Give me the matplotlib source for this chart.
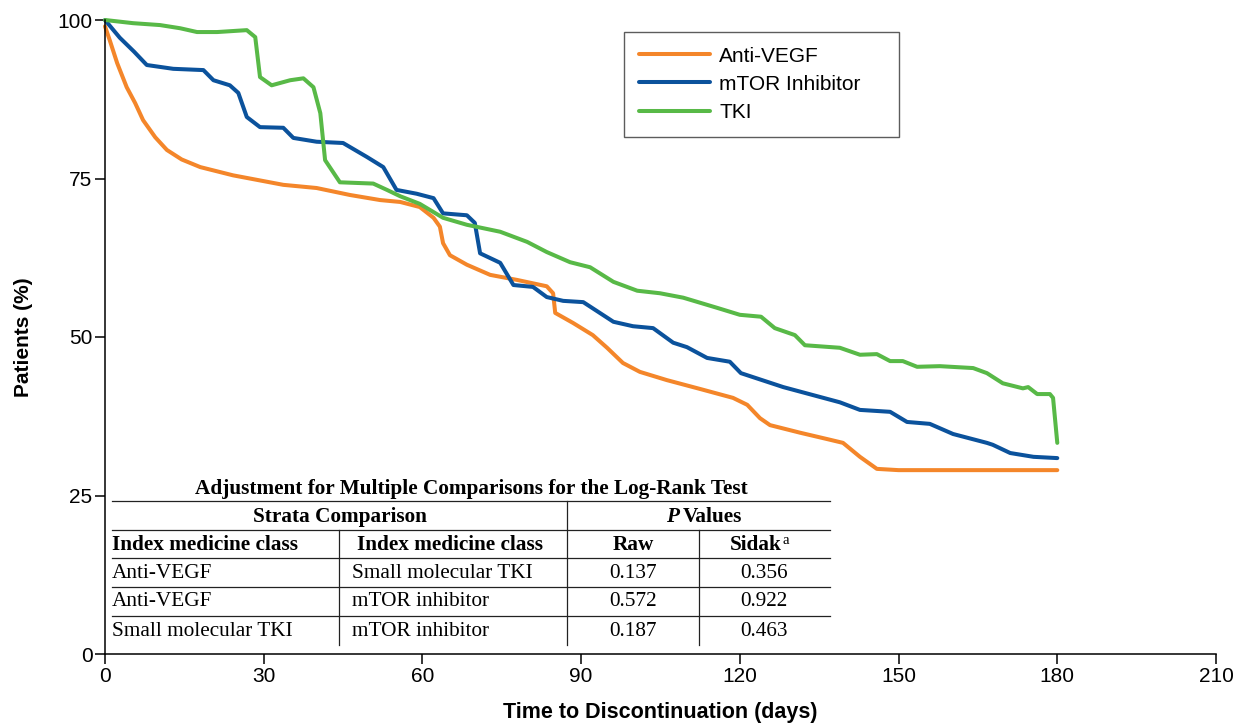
import matplotlib
matplotlib.use("Agg")
import matplotlib.pyplot as plt
from matplotlib.lines import Line2D

# ---------------- data ----------------
anti_vegf_days = [0, 0.9, 2.3, 4.1, 5.7, 7.2, 9.5, 11.7, 14.5, 18, 24.2, 33.7, 40, 46.3, 52, 55.8,
                  59.5, 62.1, 63.3, 63.9, 65.2, 68.4, 72.8, 77.9, 83.5, 84.7, 85.1, 88.5, 92.2,
                  94.9, 97.9, 101.1, 106.2, 112.5, 118.7, 121.4, 123.8, 125.7, 131.4, 136.5,
                  139.5, 142.7, 145.9, 150, 180]
anti_vegf_vals = [99, 96.8, 93.2, 89.4, 86.9, 84.2, 81.5, 79.5, 78, 76.8, 75.5, 74.0, 73.5, 72.4, 71.6, 71.3,
                  70.5, 68.8, 67.4, 64.8, 62.9, 61.4, 59.8, 59.0, 58.0, 56.9, 53.8, 52.2, 50.3,
                  48.3, 45.9, 44.5, 43.2, 41.8, 40.4, 39.3, 37.2, 36.1, 34.9, 33.9,
                  33.3, 31.1, 29.2, 29.0, 29.0]

mtor_days = [0, 2.8, 5.5, 7.9, 12.9, 18.6, 20.5, 23.6, 25.2, 26.8, 29.3, 33.7, 35.6, 40.0, 45.0,
             49.5, 52.6, 55.1, 58.9, 62.1, 63.9, 68.4, 69.9, 70.9, 74.7, 77.2, 80.9, 83.5, 86.6,
             90.4, 96.1, 99.8, 103.6, 107.4, 110.0, 113.8, 118.1, 120.2, 128.2, 138.9, 142.7,
             148.4, 151.6, 155.9, 160.3, 166.7, 167.8, 171.1, 175.5, 180]
mtor_vals = [100, 97.2, 95, 92.9, 92.3, 92.1, 90.5, 89.7, 88.5, 84.7, 83.1, 83.0, 81.4, 80.8, 80.6,
             78.4, 76.8, 73.2, 72.6, 71.9, 69.5, 69.2, 68.0, 63.2, 61.7, 58.2, 57.9, 56.3, 55.7,
             55.5, 52.4, 51.7, 51.4, 49.1, 48.4, 46.7, 46.1, 44.3, 42.1, 39.7, 38.5,
             38.2, 36.6, 36.3, 34.7, 33.3, 33.0, 31.7, 31.1, 30.9]

tki_days = [0, 5.3, 10.4, 14.2, 17.4, 21.2, 26.8, 28.4, 29.3, 31.5, 35, 37.5, 39.4, 40.7, 41.6,
            44.4, 50.7, 53.3, 55.8, 59.5, 63.9, 68.4, 74.7, 79.8, 83.5, 87.9, 91.7, 96.1, 100.6,
            104.9, 109.3, 115.7, 120.0, 124.0, 126.6, 130.4, 132.3, 138.9, 142.7, 145.9, 148.4,
            150.8, 153.5, 157.8, 164.1, 166.7, 169.7, 173.5, 174.5, 176.2, 178.6, 179.2, 180]
tki_vals = [100, 99.5, 99.2, 98.7, 98.1, 98.1, 98.4, 97.3, 91.0, 89.7, 90.5, 90.8, 89.4, 85.3, 77.9,
            74.4, 74.2, 73.2, 72.2, 71.0, 68.8, 67.7, 66.6, 65.0, 63.4, 61.8, 61.0, 58.7, 57.3,
            56.9, 56.2, 54.6, 53.5, 53.2, 51.4, 50.3, 48.7, 48.3, 47.2, 47.3, 46.2,
            46.2, 45.3, 45.4, 45.1, 44.3, 42.7, 41.9, 42.1, 41.0, 41.0, 40.4, 33.3]

series_names = ["Anti-VEGF", "mTOR Inhibitor", "TKI"]
series_colors = ["#F4862A", "#0B529C", "#58B947"]

x_ticks = [0, 30, 60, 90, 120, 150, 180, 210]
y_ticks = [0, 25, 50, 75, 100]

table_title = "Adjustment for Multiple Comparisons for the Log-Rank Test"
table_col1 = ["Anti-VEGF", "Anti-VEGF", "Small molecular TKI"]
table_col2 = ["Small molecular TKI", "mTOR inhibitor", "mTOR inhibitor"]
table_raw = ["0.137", "0.572", "0.187"]
table_sidak = ["0.356", "0.922", "0.463"]

# ---------------- figure ----------------
W, H = 1237, 723
fig = plt.figure(figsize=(W / 100, H / 100), dpi=100)
ax = fig.add_axes([105 / W, 1 - 654 / H, (1216 - 105) / W, (654 - 20) / H])

sans = ["Liberation Sans", "DejaVu Sans"]
serif = ["Liberation Serif", "DejaVu Serif"]
sfs = 15

for d, v, name, c in zip([anti_vegf_days, mtor_days, tki_days],
                         [anti_vegf_vals, mtor_vals, tki_vals],
                         series_names, series_colors):
    ax.plot(d, v, color=c, lw=2.9, label=name, solid_joinstyle="round",
            solid_capstyle="round", clip_on=False)

ax.set_xlim(0, 210)
ax.set_ylim(0, 100)
ax.set_xticks(x_ticks)
ax.set_yticks(y_ticks)
ax.set_xticklabels([str(t) for t in x_ticks], fontsize=sfs, family=sans)
ax.set_yticklabels([str(t) for t in y_ticks], fontsize=sfs, family=sans)
for s in ["top", "right"]:
    ax.spines[s].set_visible(False)
for s in ["left", "bottom"]:
    ax.spines[s].set_linewidth(1.1)
ax.tick_params(direction="out", length=7, width=1.1, pad=2)
ax.set_xlabel("Time to Discontinuation (days)", fontsize=15.5, fontweight="bold",
              family=sans, labelpad=12)
ax.set_ylabel("Patients (%)", fontsize=15, fontweight="bold", family=sans, labelpad=17.5)

leg = ax.legend(loc="upper left",
                bbox_to_anchor=((624 - 105) / (1216 - 105), 1 - (32 - 20) / 634),
                frameon=True, fancybox=False, edgecolor="#333333",
                prop={"family": sans, "size": sfs}, handlelength=3.45, handletextpad=0.42,
                borderpad=0.7, labelspacing=0.44, borderaxespad=0, alignment="left")
leg.get_frame().set_linewidth(1.0)
try:
    leg._legend_box.set_width(246)
except Exception:
    pass

# ---------------- table ----------------
def fx(px):
    return px / W

def fy(py):
    return 1 - py / H

def hline(y, x0=112, x1=830):
    fig.add_artist(Line2D([fx(x0), fx(x1)], [fy(y), fy(y)], color="#222222", lw=0.9))

def vline(x, y0, y1):
    fig.add_artist(Line2D([fx(x), fx(x)], [fy(y0), fy(y1)], color="#222222", lw=0.9))

tfs = 15.3
fig.text(fx(471), fy(489), table_title, ha="center", va="center", fontsize=tfs,
         fontweight="bold", family=serif)
hline(501)
fig.text(fx(340), fy(517), "Strata Comparison", ha="center", va="center", fontsize=tfs,
         fontweight="bold", family=serif)
fig.text(fx(679), fy(517), "P", ha="right", va="center", fontsize=tfs,
         fontweight="bold", style="italic", family=serif)
fig.text(fx(683), fy(517), "Values", ha="left", va="center", fontsize=tfs,
         fontweight="bold", family=serif)
vline(567, 501, 645)
hline(530)
fig.text(fx(112), fy(545), "Index medicine class", ha="left", va="center", fontsize=tfs,
         fontweight="bold", family=serif)
fig.text(fx(357), fy(545), "Index medicine class", ha="left", va="center", fontsize=tfs,
         fontweight="bold", family=serif)
fig.text(fx(633), fy(545), "Raw", ha="center", va="center", fontsize=tfs,
         fontweight="bold", family=serif)
fig.text(fx(782), fy(545), "Sidak", ha="right", va="center", fontsize=tfs,
         fontweight="bold", family=serif)
fig.text(fx(783), fy(541), "a", ha="left", va="center", fontsize=tfs * 0.7,
         family=serif)
vline(339, 530, 645)
vline(699, 530, 645)
hline(558)

row_y = [573, 602, 631]
for i, y in enumerate(row_y):
    fig.text(fx(112), fy(y), table_col1[i], ha="left", va="center", fontsize=tfs, family=serif)
    fig.text(fx(352), fy(y), table_col2[i], ha="left", va="center", fontsize=tfs, family=serif)
    fig.text(fx(633), fy(y), table_raw[i], ha="center", va="center", fontsize=tfs, family=serif)
    fig.text(fx(764), fy(y), table_sidak[i], ha="center", va="center", fontsize=tfs, family=serif)
    if i < len(row_y) - 1:
        hline(y + 14)

fig.savefig("out.png", dpi=100)
